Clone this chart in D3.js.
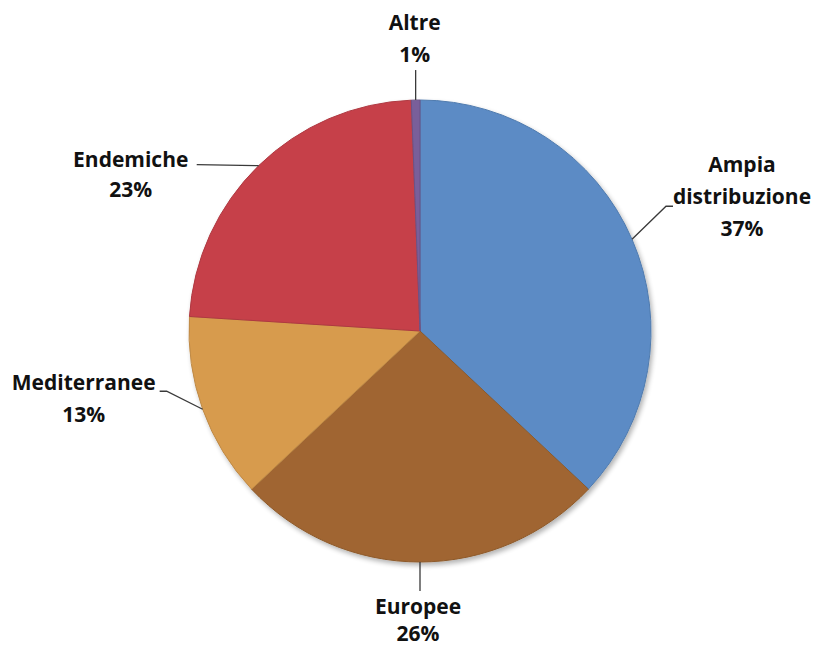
<!DOCTYPE html>
<html>
<head>
<meta charset="utf-8">
<script src="https://cdn.jsdelivr.net/npm/d3@7"></script>
<style>
  html, body { margin: 0; padding: 0; background: #ffffff; }
  svg { display: block; }
  text { font-family: "Open Sans", Lato, sans-serif; font-weight: bold; fill: #111; }
</style>
</head>
<body>
<svg id="chart" width="813" height="647"></svg>
<script>
// ---- data ----
const categories = ["Ampia distribuzione", "Europee", "Mediterranee", "Endemiche", "Altre"];
const values = [37, 26, 13, 23.4, 0.6];
const percentLabels = ["37%", "26%", "13%", "23%", "1%"];
const colors = ["#6093d0", "#a96b33", "#e3a452", "#d1444e", "#8064a2"];

// ---- layout ----
const W = 813, H = 647;
const cx = 420, cy = 331, R = 231;
const labelLines = [["Ampia", "distribuzione", "37%"], ["Europee", "26%"], ["Mediterranee", "13%"], ["Endemiche", "23%"], ["Altre", "1%"]];
const leaders = [
  { pts: [[34, -33], [41, -33]], label: [110, -67], lh: 32 },
  { pts: [[0, 29]], label: [-2, 52], lh: 27 },
  { pts: [[-36, -18], [-43, -18]], label: [-119, -19], lh: 32 },
  { pts: [[-62, -1]], label: [-128, 1], lh: 30 },
  { pts: [[0, -30]], label: [-1, -70], lh: 32 }
];

const svg = d3.select("#chart");
const defs = svg.append("defs");

const filt = defs.append("filter").attr("id", "shadow").attr("x", "-20%").attr("y", "-20%").attr("width", "140%").attr("height", "140%");
filt.append("feGaussianBlur").attr("in", "SourceAlpha").attr("stdDeviation", 2.5);
filt.append("feOffset").attr("dx", 2).attr("dy", 3).attr("result", "b");
filt.append("feComponentTransfer").append("feFuncA").attr("type", "linear").attr("slope", 0.3);
const fm = filt.append("feMerge");
fm.append("feMergeNode");
fm.append("feMergeNode").attr("in", "SourceGraphic");

colors.forEach((c, i) => {
  const g = defs.append("radialGradient").attr("id", "grad" + i)
    .attr("gradientUnits", "userSpaceOnUse")
    .attr("cx", cx).attr("cy", cy).attr("r", R)
    .attr("fx", cx - R * 0.2).attr("fy", cy - R * 0.3);
  g.append("stop").attr("offset", "0%").attr("stop-color", d3.color(c).brighter(0.12));
  g.append("stop").attr("offset", "90%").attr("stop-color", c);
  g.append("stop").attr("offset", "100%").attr("stop-color", d3.color(c).darker(0.15));
});

const pie = d3.pie().sort(null).value(d => d)(values);
const arc = d3.arc().innerRadius(0).outerRadius(R);

const g = svg.append("g").attr("transform", `translate(${cx},${cy})`);
const slices = g.append("g").attr("filter", "url(#shadow)");
slices.selectAll("path").data(pie).join("path")
  .attr("d", arc)
  .attr("fill", (d, i) => `url(#grad${i})`)
  .attr("stroke", (d, i) => d3.color(colors[i]).darker(0.5))
  .attr("stroke-width", 1)
  .attr("stroke-linejoin", "round");

// leaders and labels
pie.forEach((d, i) => {
  const a = (d.startAngle + d.endAngle) / 2;
  const p0 = [R * Math.sin(a), -R * Math.cos(a)];
  const L = leaders[i];
  const pts = [p0].concat(L.pts.map(o => [p0[0] + o[0], p0[1] + o[1]]));
  g.append("path")
    .attr("d", d3.line()(pts))
    .attr("fill", "none")
    .attr("stroke", "#3a3a3a")
    .attr("stroke-width", 1.3);
  const lines = labelLines[i];
  const lx = p0[0] + L.label[0], ly = p0[1] + L.label[1];
  const t = g.append("text").attr("text-anchor", "middle").attr("font-size", 21);
  lines.forEach((s, k) => {
    t.append("tspan").attr("x", lx).attr("y", ly + k * L.lh).text(s);
  });
});
</script>
</body>
</html>
